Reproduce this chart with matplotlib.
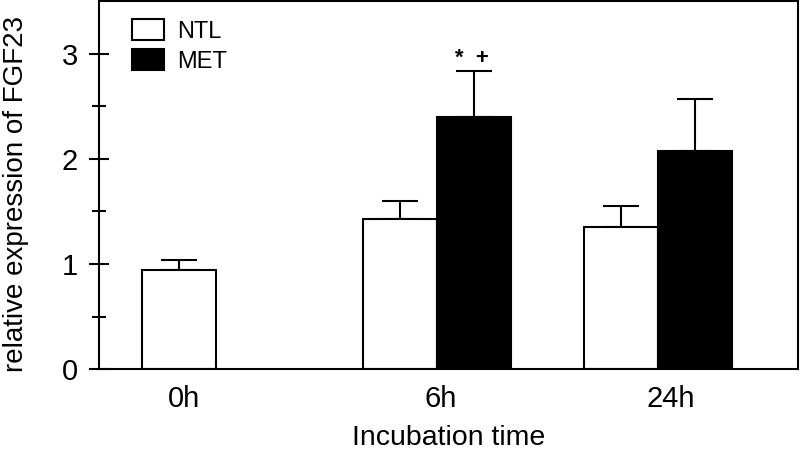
import numpy as np
import matplotlib
matplotlib.use('Agg')
import matplotlib.pyplot as plt
from matplotlib.patches import Patch

plt.rcParams['font.family'] = ['Liberation Sans', 'DejaVu Sans']

# data
times = ['0h', '6h', '24h']
ntl_mean = [0.945, 1.426, 1.350]
ntl_err = [0.095, 0.171, 0.202]
met_mean = [np.nan, 2.401, 2.075]
met_err = [np.nan, 0.432, 0.492]
met_marks = ['', '*  +', '']

# layout
width = 0.335
x = np.arange(len(times))
label_shift = [-width / 2 + 0.025, 0.02, 0.06]

fig = plt.figure(figsize=(8, 4.51), dpi=100)
ax = fig.add_axes([99 / 800, 81.7 / 451, 699 / 800, 368.3 / 451])

lw = 1.5
# the 0h group only has a control bar
ntl_x = x - width / 2
met_x = x + width / 2

ax.bar(ntl_x, ntl_mean, width, color='white', edgecolor='black', linewidth=lw, zorder=2)
ax.bar(met_x, met_mean, width, color='black', edgecolor='black', linewidth=lw, zorder=2)

for xs, m, e in [(ntl_x, ntl_mean, ntl_err), (met_x, met_mean, met_err)]:
    m = np.array(m)
    e = np.array(e)
    ok = ~np.isnan(m)
    ax.errorbar(xs[ok], m[ok], yerr=[np.zeros(ok.sum()), e[ok]], fmt='none',
                ecolor='black', elinewidth=lw, capsize=13.3, capthick=lw, zorder=1)

for xi, m, e, s in zip(met_x, met_mean, met_err, met_marks):
    if s:
        ax.text(xi - 0.01, m + e + 0.02, s, ha='center', va='bottom', fontsize=16,
                fontweight='bold')

ax.set_xlim(-0.528, 2.635)
ax.set_ylim(0, 3.5)

ax.set_yticks([0, 1, 2, 3])
ax.set_yticks([0.5, 1.5, 2.5], minor=True)
ax.tick_params(axis='y', which='major', direction='inout', length=14.4, width=lw,
               labelsize=21, pad=8)
ax.tick_params(axis='y', which='minor', direction='inout', length=10, width=lw)

ax.set_xticks(x + np.array(label_shift))
ax.set_xticklabels(times)
ax.tick_params(axis='x', length=0, labelsize=21, pad=11)

for sp in ax.spines.values():
    sp.set_linewidth(lw)

ax.set_ylabel('relative expression of FGF23', fontsize=20)
ax.yaxis.set_label_coords(-0.1, 0.475)
ax.set_xlabel('Incubation time', fontsize=20.5, labelpad=9)

handles = [Patch(facecolor='white', edgecolor='black', linewidth=lw),
           Patch(facecolor='black', edgecolor='black', linewidth=lw)]
ax.legend(handles, ['NTL', 'MET'], loc='upper left', bbox_to_anchor=(0.047, 0.95),
          frameon=False, fontsize=17, borderpad=0, borderaxespad=0,
          handlelength=1.35, handleheight=0.96, handletextpad=0.55, labelspacing=0.28)

fig.savefig('out.png', dpi=100)
